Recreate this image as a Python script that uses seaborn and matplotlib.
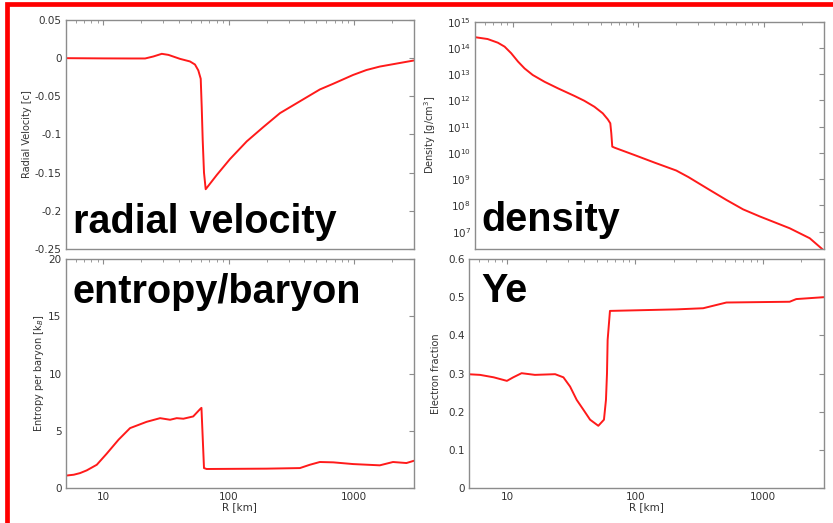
import numpy as np
import pandas as pd
import matplotlib
matplotlib.use("Agg")
import matplotlib.pyplot as plt
import seaborn as sns
from matplotlib.patches import Rectangle
from matplotlib.ticker import LogLocator, NullFormatter, FixedLocator

# ---------------- data ----------------
vel_r = [5, 10, 16.3, 21.5, 25, 29.2, 33, 40.8, 49, 53.7, 57.1, 59.7, 60.8, 61.9, 63.4, 65.4,
         80.2, 102, 139, 188, 256, 369, 532, 681, 980, 1254, 1600, 3000]
vel_v = [0.0, -0.0003, -0.0004, -0.0004, 0.0022, 0.0057, 0.0043, -0.0009, -0.0043, -0.0083,
         -0.016, -0.027, -0.064, -0.107, -0.15, -0.1717,
         -0.153, -0.1323, -0.109, -0.0904, -0.072, -0.0565, -0.041, -0.0335, -0.022, -0.0155,
         -0.011, -0.003]

den_r = [5, 6.3, 7.6, 8.6, 9.7, 11.0, 12.4, 14.4, 17.9, 22.9, 31, 37, 44.6, 52, 57, 59.7, 60.8,
         61.9, 64.6, 93, 134.6, 200, 250, 369, 501, 681, 925, 1600, 2310, 2917]
den_log = [14.41, 14.34, 14.20, 14.05, 13.80, 13.48, 13.22, 12.97, 12.71, 12.46, 12.17, 11.99,
           11.76, 11.51, 11.28, 11.13, 10.75, 10.24, 10.20, 9.92, 9.63, 9.33, 9.08, 8.59, 8.21,
           7.85, 7.58, 7.13, 6.75, 6.33]

ent_r = [5, 5.8, 6.5, 7.36, 8.85, 10.6, 13.2, 16.3, 22.1, 28.3, 34, 38.4, 43.4, 52, 59, 60.5,
         63.4, 66.5, 200, 369, 443, 532, 681, 980, 1600, 2040, 2610, 3000]
ent_s = [1.08, 1.16, 1.30, 1.54, 2.03, 2.99, 4.22, 5.23, 5.78, 6.10, 5.96, 6.10, 6.05, 6.25,
         6.89, 7.0, 1.74, 1.66, 1.69, 1.74, 2.03, 2.27, 2.24, 2.09, 1.98, 2.27, 2.18, 2.38]

ye_r = [5, 6.1, 7.8, 9.9, 11.1, 12.9, 16.4, 23.6, 27.4, 30.9, 34.8, 39.3, 44.3, 51.4, 56.9, 59,
        60.1, 60.8, 63.4, 210, 340, 431, 517, 1615, 1820, 3000]
ye_v = [0.298, 0.2964, 0.290, 0.2807, 0.290, 0.3008, 0.2964, 0.2982, 0.290, 0.2658, 0.231, 0.205,
        0.179, 0.163, 0.179, 0.231, 0.300, 0.388, 0.464, 0.468, 0.471, 0.4795, 0.486, 0.488,
        0.495, 0.500]

panel_titles = ["radial velocity", "density", "entropy/baryon", "Ye"]
ylabels = ["Radial Velocity [c]", "Density [g/cm$^3$]", "Entropy per baryon [k$_B$]", "Electron fraction"]
xlabel = "R [km]"
x_ticks = [10, 100, 1000]
x_ticklabels = ["10", "100", "1000"]

# ---------------- figure ----------------
sns.set_style("white")
plt.rcParams["font.family"] = ["DejaVu Sans"]

W, H = 833, 523
fig = plt.figure(figsize=(W / 100, H / 100), dpi=100)

def rect(l, t, r, b):
    return [l / W, 1 - b / H, (r - l) / W, (b - t) / H]

ax_v = fig.add_axes(rect(65.7, 20, 414, 249))
ax_d = fig.add_axes(rect(475, 21.7, 824, 249))
ax_s = fig.add_axes(rect(65.7, 259, 414, 488))
ax_y = fig.add_axes(rect(469, 259, 824, 488))

red = "#ff1a1a"
spine_c = "#8c8c8c"
txt_c = "#333333"

df_v = pd.DataFrame({"R": vel_r, "val": vel_v})
df_d = pd.DataFrame({"R": den_r, "val": 10.0 ** np.array(den_log)})
df_s = pd.DataFrame({"R": ent_r, "val": ent_s})
df_y = pd.DataFrame({"R": ye_r, "val": ye_v})

for ax, df in [(ax_v, df_v), (ax_d, df_d), (ax_s, df_s), (ax_y, df_y)]:
    sns.lineplot(data=df, x="R", y="val", ax=ax, color=red, linewidth=1.4,
                 estimator=None, sort=False)
    ax.set_xscale("log")
    ax.set_xlim(5, 3000)
    ax.xaxis.set_major_locator(FixedLocator(x_ticks))
    ax.xaxis.set_minor_locator(LogLocator(base=10, subs=np.arange(2, 10), numticks=20))
    ax.xaxis.set_minor_formatter(NullFormatter())
    for sp in ax.spines.values():
        sp.set_color(spine_c)
        sp.set_linewidth(1.0)
    ax.tick_params(which="both", direction="in", top=True, right=True, color=spine_c,
                   labelcolor=txt_c, labelsize=7.5, pad=3)
    ax.tick_params(which="major", length=3.5, width=0.8)
    ax.tick_params(which="minor", length=2, width=0.6)
    ax.set_xlabel("")
    ax.set_ylabel("")

for ax in (ax_v, ax_d):
    ax.set_xticklabels([])
for ax in (ax_s, ax_y):
    ax.set_xticklabels(x_ticklabels)
    ax.set_xlabel(xlabel, fontsize=7.5, color=txt_c, labelpad=0)

ax_v.set_ylim(-0.25, 0.05)
ax_v.set_yticks([0.05, 0, -0.05, -0.1, -0.15, -0.2, -0.25])
ax_v.set_yticklabels(["0.05", "0", "-0.05", "-0.1", "-0.15", "-0.2", "-0.25"])

ax_d.set_yscale("log")
ax_d.set_ylim(10 ** 6.34, 1e15)
ax_d.yaxis.set_major_locator(FixedLocator([10.0 ** k for k in range(7, 16)]))
ax_d.yaxis.set_minor_locator(FixedLocator([]))
ax_d.set_yticklabels(["$10^{%d}$" % k for k in range(7, 16)])

ax_s.set_ylim(0, 20)
ax_s.set_yticks([0, 5, 10, 15, 20])

ax_y.set_ylim(0, 0.6)
ax_y.set_yticks([0, 0.1, 0.2, 0.3, 0.4, 0.5, 0.6])
ax_y.set_yticklabels(["0", "0.1", "0.2", "0.3", "0.4", "0.5", "0.6"])

for ax, lab, pad in zip([ax_v, ax_d, ax_s, ax_y], ylabels, [2, 6.3, 2, 5]):
    ax.set_ylabel(lab, fontsize=7, color=txt_c, labelpad=pad)

# big panel labels
for (x, y), t in zip([(73, 233), (481, 231), (72, 303), (481, 302)], panel_titles):
    fig.text(x / W, 1 - y / H, t, fontsize=28.5, color="black", va="baseline", ha="left",
             family=["Liberation Sans", "DejaVu Sans"], weight="bold")

# red frame
fig.patches.append(Rectangle((7 / W, -0.2), 2.0, 1.2 - 3.5 / H, transform=fig.transFigure,
                             fill=False, edgecolor="red", linewidth=3.4, clip_on=False))

fig.savefig("out.png", dpi=100)
